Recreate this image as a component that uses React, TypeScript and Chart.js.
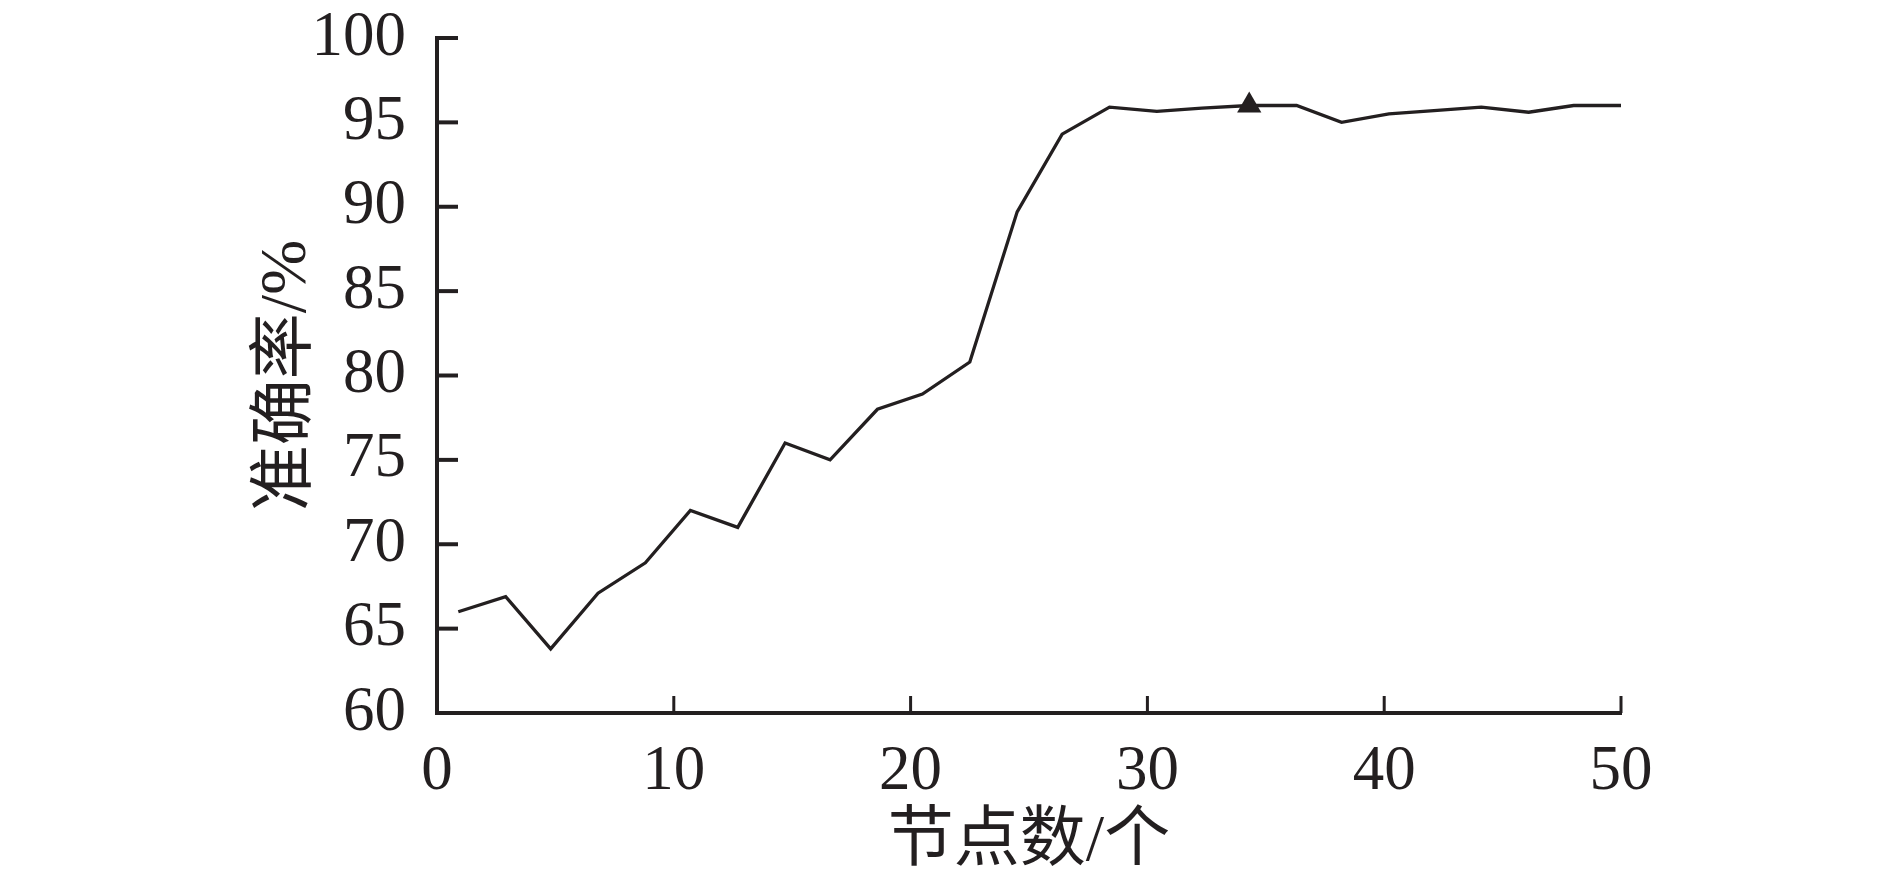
import React, { useEffect, useRef } from "react";
import { Chart, registerables } from "chart.js";

Chart.register(...registerables);

// Node count positions (x) and accuracy values (y, %)
const nodeCounts: number[] = [
  0.9, 2.9, 4.8, 6.8, 8.8, 10.7, 12.7, 14.7, 16.6, 18.6, 20.5, 22.5, 24.5,
  26.4, 28.4, 30.4, 32.3, 34.3, 36.3, 38.2, 40.2, 42.1, 44.1, 46.1, 48.0, 50.0,
];
const accuracy: number[] = [
  66.0, 66.9, 63.8, 67.1, 68.9, 72.0, 71.0, 76.0, 75.0, 78.0, 78.9, 80.8, 89.7,
  94.3, 95.9, 95.65, 95.85, 96.0, 96.0, 95.0, 95.5, 95.7, 95.9, 95.6, 96.0, 96.0,
];
const markedIndex = 17; // point drawn with the triangle marker

const xTicks: number[] = [0, 10, 20, 30, 40, 50];
const yTicks: number[] = [60, 65, 70, 75, 80, 85, 90, 95, 100];

const xTitle = "节点数/个";
const yTitle = "准确率/%";

const INK = "#231f20";
const NUM_FONT = "'Liberation Serif', 'Times New Roman', serif";
const CJK_FONT = "'Liberation Serif', 'Noto Sans CJK SC', serif";

const inwardTicks = {
  id: "inwardTicks",
  afterDatasetsDraw(chart: any) {
    const { ctx, chartArea, scales } = chart;
    ctx.save();
    ctx.strokeStyle = INK;
    ctx.lineCap = "butt";
    ctx.lineWidth = 4;
    yTicks.forEach((v) => {
      if (v === yTicks[0]) return;
      const y = scales.y.getPixelForValue(v);
      ctx.beginPath();
      ctx.moveTo(chartArea.left, y);
      ctx.lineTo(chartArea.left + 21, y);
      ctx.stroke();
    });
    ctx.lineWidth = 3;
    xTicks.forEach((v) => {
      if (v === xTicks[0]) return;
      const x = scales.x.getPixelForValue(v);
      ctx.beginPath();
      ctx.moveTo(x, chartArea.bottom);
      ctx.lineTo(x, chartArea.bottom - 17);
      ctx.stroke();
    });
    ctx.restore();
  },
};

export default function App() {
  const canvasRef = useRef<HTMLCanvasElement | null>(null);

  useEffect(() => {
    if (!canvasRef.current) return;
    const chart = new Chart(canvasRef.current, {
      type: "line",
      data: {
        datasets: [
          {
            data: nodeCounts.map((x, i) => ({ x, y: accuracy[i] })),
            borderColor: INK,
            backgroundColor: INK,
            borderWidth: 3.3,
            tension: 0,
            pointStyle: "triangle",
            pointRadius: nodeCounts.map((_, i) => (i === markedIndex ? 14 : 0)),
            pointBorderWidth: 0,
            pointBackgroundColor: INK,
            pointHoverRadius: 0,
          },
        ],
      },
      options: {
        responsive: false,
        animation: false,
        layout: { padding: { left: 240, top: 38, right: 269, bottom: 0 } },
        plugins: {
          legend: { display: false },
          tooltip: { enabled: false },
        },
        scales: {
          x: {
            type: "linear",
            min: 0,
            max: 50,
            afterBuildTicks: (scale: any) => {
              scale.ticks = xTicks.map((v) => ({ value: v }));
            },
            afterFit: (scale: any) => {
              scale.height = 165;
              scale.paddingLeft = 0;
              scale.paddingRight = 0;
            },
            grid: { display: false },
            border: { display: true, color: INK, width: 4 },
            ticks: {
              color: INK,
              padding: 14,
              font: { family: NUM_FONT, size: 63 },
              maxRotation: 0,
            },
            title: {
              display: true,
              text: xTitle,
              color: INK,
              font: { family: CJK_FONT, size: 66, lineHeight: 1 },
              padding: { top: 0, bottom: 2 },
            },
          },
          y: {
            min: 60,
            max: 100,
            afterBuildTicks: (scale: any) => {
              scale.ticks = yTicks.map((v) => ({ value: v }));
            },
            afterFit: (scale: any) => {
              scale.width = 197;
              scale.paddingTop = 0;
              scale.paddingBottom = 0;
            },
            grid: { display: false },
            border: { display: true, color: INK, width: 4 },
            ticks: {
              color: INK,
              padding: 23,
              font: { family: NUM_FONT, size: 63 },
            },
            title: {
              display: true,
              text: yTitle,
              color: INK,
              font: { family: CJK_FONT, size: 66 },
              padding: { top: 8, bottom: 0 },
            },
          },
        },
      },
      plugins: [inwardTicks],
    });
    return () => chart.destroy();
  }, []);

  return (
    <div style={{ position: "absolute", left: 0, top: 0, width: 1890, height: 878, background: "#fff" }}>
      <canvas ref={canvasRef} width={1890} height={878} />
    </div>
  );
}
